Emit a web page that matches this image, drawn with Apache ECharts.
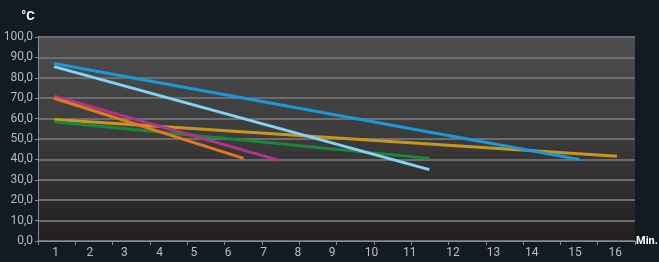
<!DOCTYPE html>
<html>
<head>
<meta charset="utf-8">
<script src="https://cdn.jsdelivr.net/npm/echarts@6/dist/echarts.min.js"></script>
<style>
html,body{margin:0;padding:0;background:#111b21;}
#chart{width:659px;height:262px;}
</style>
</head>
<body>
<div id="chart"></div>
<script>
// ---- data ----
const xCategories = ['1','2','3','4','5','6','7','8','9','10','11','12','13','14','15','16'];
const yMin = 0, yMax = 100, yStep = 10;
const goldLine = [[1, 59.5], [16, 41.5]];
const greenLine = [[1, 58.5], [11, 40.5]];
const magentaLine = [[1, 71], [7, 39.5]];
const orangeLine = [[1, 70], [6.05, 40.5]];
const blueLine = [[1, 87], [15, 40]];
const lightBlueLine = [[1, 85.5], [11, 35]];

// ---- presentation ----
const labelShift = [-1,-4,-7,-9,-12,-15,-17,-20,-23,-21,-20,-14,-11,-10,-4,-1];
const rich = {};
labelShift.forEach((s, i) => {
  rich['l' + i] = { padding: [0, -2 * s, 0, 0], color: '#b9bfc4', fontSize: 12, fontFamily: 'Roboto' };
});

const seriesDefs = [
  { data: goldLine, color: '#c8961c' },
  { data: greenLine, color: '#17893a' },
  { data: magentaLine, color: '#b2338c' },
  { data: orangeLine, color: '#e5761f' },
  { data: blueLine, color: '#1a98da' },
  { data: lightBlueLine, color: '#84d3f5' }
];

const chart = echarts.init(document.getElementById('chart'), null, { renderer: 'canvas' });
chart.setOption({
  backgroundColor: '#111b21',
  animation: false,
  grid: {
    left: 38, right: 24, top: 37, bottom: 21,
    containLabel: false,
    outerBoundsMode: 'none',
    show: true,
    borderWidth: 0,
    backgroundColor: new echarts.graphic.LinearGradient(0, 0, 0, 1, [
      { offset: 0, color: '#4e4e4f' },
      { offset: 0.5, color: '#3c3b3c' },
      { offset: 1, color: '#221e1f' }
    ])
  },
  xAxis: [
    {
      type: 'category',
      data: xCategories,
      boundaryGap: true,
      name: 'Min.',
      nameLocation: 'end',
      nameGap: 1,
      nameTextStyle: { color: '#ffffff', fontWeight: 'bold', fontSize: 11, fontFamily: 'Roboto', padding: [27, 0, 0, 0] },
      axisLine: { lineStyle: { color: '#8a8a8a', width: 1 } },
      axisTick: { show: true, alignWithLabel: false, length: 4, lineStyle: { color: '#8a8a8a' } },
      axisLabel: {
        margin: 6,
        interval: 0,
        formatter: (v, i) => '{l' + i + '|' + v + '}',
        rich: rich
      },
      splitLine: { show: false }
    },
    {
      type: 'value',
      min: 0.57,
      max: 16.48,
      show: false,
      splitLine: { show: false }
    }
  ],
  yAxis: {
    type: 'value',
    min: yMin,
    max: yMax,
    interval: yStep,
    name: '°C',
    nameLocation: 'end',
    nameGap: 14,
    nameTextStyle: { color: '#ffffff', fontWeight: 'bold', fontSize: 13, fontFamily: 'Roboto', padding: [0, 20, 0, 0] },
    axisLine: { show: true, lineStyle: { color: '#8a8a8a', width: 1 } },
    axisTick: { show: true, length: 3, lineStyle: { color: '#8a8a8a' } },
    axisLabel: {
      margin: 5,
      color: '#b4babf',
      fontSize: 12,
      fontFamily: 'Roboto',
      formatter: v => v.toFixed(1).replace('.', ',')
    },
    splitLine: { show: true, lineStyle: { color: '#6c6c6c', width: 2 } }
  },
  series: seriesDefs.map(s => ({
    type: 'line',
    xAxisIndex: 1,
    data: s.data,
    symbol: 'none',
    lineStyle: { color: s.color, width: 3 },
    itemStyle: { color: s.color }
  }))
});
</script>
</body>
</html>
